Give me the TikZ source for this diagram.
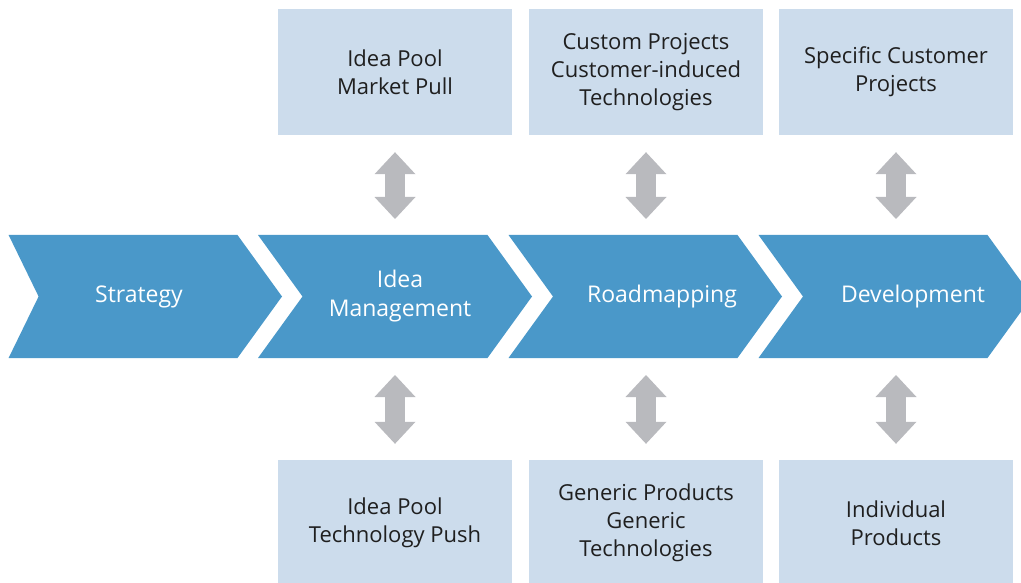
\documentclass[tikz,border=0pt]{standalone}
\usepackage{fontspec}
\setmainfont{Open Sans}
\usetikzlibrary{arrows.meta}

\definecolor{stageblue}{RGB}{74,152,201}
\definecolor{poolblue}{RGB}{204,220,236}
\definecolor{linkgray}{RGB}{185,186,190}

\begin{document}
\begin{tikzpicture}[x=1pt,y=-1pt,
  stage/.style={fill=stageblue},
  stagetext/.style={text=white, align=center, font=\fontsize{23}{29}\selectfont},
  pool/.style={fill=poolblue, minimum width=234pt, minimum height=126pt, inner sep=0pt,
    align=center, text=black!88, font=\fontsize{22}{28}\selectfont},
  updown/.style={linkgray, line width=20pt,
    {Triangle[length=22pt,width=41pt,line width=0pt]}-{Triangle[length=22pt,width=41pt,line width=0pt]},
    shorten <=17pt, shorten >=16pt}]
\clip (0,0) rectangle (1021,583);
% process chevrons
\fill[stage] (8.6,235) -- (237.5,235) -- (282,296.5) -- (237.5,358) -- (8.6,358) -- (38.6,296.5) -- cycle;
\fill[stage] (258,235) -- (487.5,235) -- (532,296.5) -- (487.5,358) -- (258,358) -- (302.5,296.5) -- cycle;
\fill[stage] (508.5,235) -- (737.5,235) -- (782,296.5) -- (737.5,358) -- (508.5,358) -- (553,296.5) -- cycle;
\fill[stage] (758.5,235) -- (987.5,235) -- (1032,296.5) -- (987.5,358) -- (758.5,358) -- (803,296.5) -- cycle;
\node[stagetext] (strategy) at (139,296.5) {Strategy};
\node[stagetext] (ideamgmt) at (400,296.5) {Idea\\Management};
\node[stagetext] (roadmap) at (662,296.5) {Roadmapping};
\node[stagetext] (develop) at (913,296.5) {Development};
\coordinate (ideamgmt-top) at (395,235);
\coordinate (ideamgmt-bot) at (395,358);
\coordinate (roadmap-top) at (646,235);
\coordinate (roadmap-bot) at (646,358);
\coordinate (develop-top) at (896,235);
\coordinate (develop-bot) at (896,358);
% sources above
\node[pool] (pullbox) at (395,72) {Idea Pool\\Market Pull};
\node[pool] (custombox) at (646,72) {Custom Projects\\Customer-induced\\Technologies};
\node[pool] (specificbox) at (896,72) {Specific Customer\\Projects};
% results below
\node[pool] (pushbox) at (395,523) {Idea Pool\\Technology Push};
\node[pool] (genericbox) at (646,523) {Generic Products\\Generic\\Technologies};
\node[pool] (individualbox) at (896,523) {Individual\\Products};
% links
\draw[updown] (pullbox) -- (ideamgmt-top);
\draw[updown] (custombox) -- (roadmap-top);
\draw[updown] (specificbox) -- (develop-top);
\draw[updown] (ideamgmt-bot) -- (pushbox);
\draw[updown] (roadmap-bot) -- (genericbox);
\draw[updown] (develop-bot) -- (individualbox);
\end{tikzpicture}
\end{document}
